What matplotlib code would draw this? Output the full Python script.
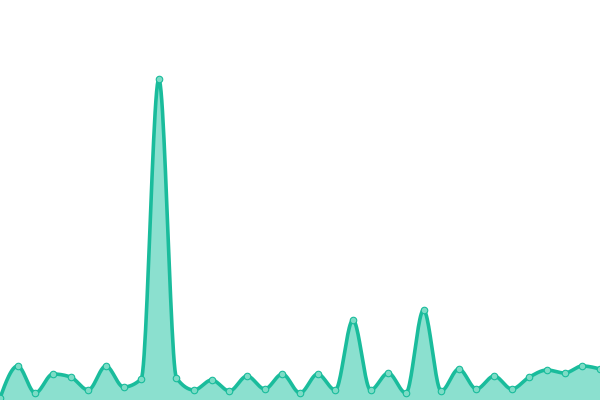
import numpy as np
import matplotlib
matplotlib.use("Agg")
import matplotlib.pyplot as plt

# values (height above the baseline, px-ish units)
values = [2, 34, 7, 26, 23, 10, 34, 13, 21, 321, 22, 10, 20, 9, 24, 11, 26, 7,
          26, 10, 80, 10, 27, 7, 90, 9, 31, 11, 24, 11, 23, 30, 27, 34, 31]
positions = list(range(len(values)))

LINE = "#1abc9c"
FILL = "#8be0cf"
DOT = "#7ddcc6"


def monotone_x(x, y, n=24):
    # same idea as d3.curveMonotoneX (Fritsch-Carlson slopes)
    x = np.asarray(x, float)
    y = np.asarray(y, float)
    h = np.diff(x)
    s = np.diff(y) / h
    t = np.zeros_like(y)
    for i in range(1, len(y) - 1):
        if s[i - 1] * s[i] <= 0:
            t[i] = 0
        else:
            p = (s[i - 1] * h[i] + s[i] * h[i - 1]) / (h[i - 1] + h[i])
            t[i] = np.sign(s[i - 1]) * min(abs(s[i - 1]), abs(s[i]), 0.5 * abs(p)) * 2
    t[0] = (3 * s[0] - t[1]) / 2 if len(y) > 2 else s[0]
    t[-1] = (3 * s[-1] - t[-2]) / 2 if len(y) > 2 else s[-1]
    xs, ys = [], []
    for i in range(len(y) - 1):
        u = np.linspace(0, 1, n, endpoint=False)
        h00 = 2 * u**3 - 3 * u**2 + 1
        h10 = u**3 - 2 * u**2 + u
        h01 = -2 * u**3 + 3 * u**2
        h11 = u**3 - u**2
        xs.append(x[i] + u * h[i])
        ys.append(h00 * y[i] + h10 * h[i] * t[i] + h01 * y[i + 1] + h11 * h[i] * t[i + 1])
    xs.append([x[-1]])
    ys.append([y[-1]])
    return np.concatenate(xs), np.concatenate(ys)


fig = plt.figure(figsize=(6, 4), dpi=100)
ax = fig.add_axes([0, 0, 1, 1])

sx, sy = monotone_x(positions, values)
ax.fill_between(sx, sy, 0, color=FILL, linewidth=0)
ax.plot(sx, sy, color=LINE, linewidth=2.6, solid_capstyle="round")
ax.scatter(positions, values, s=22, color=DOT, edgecolors=LINE, linewidths=0.8, zorder=3)

ax.set_xlim(0, len(values) - 1)
ax.set_ylim(0, 400)
ax.axis("off")

fig.savefig("out.png", dpi=100)
